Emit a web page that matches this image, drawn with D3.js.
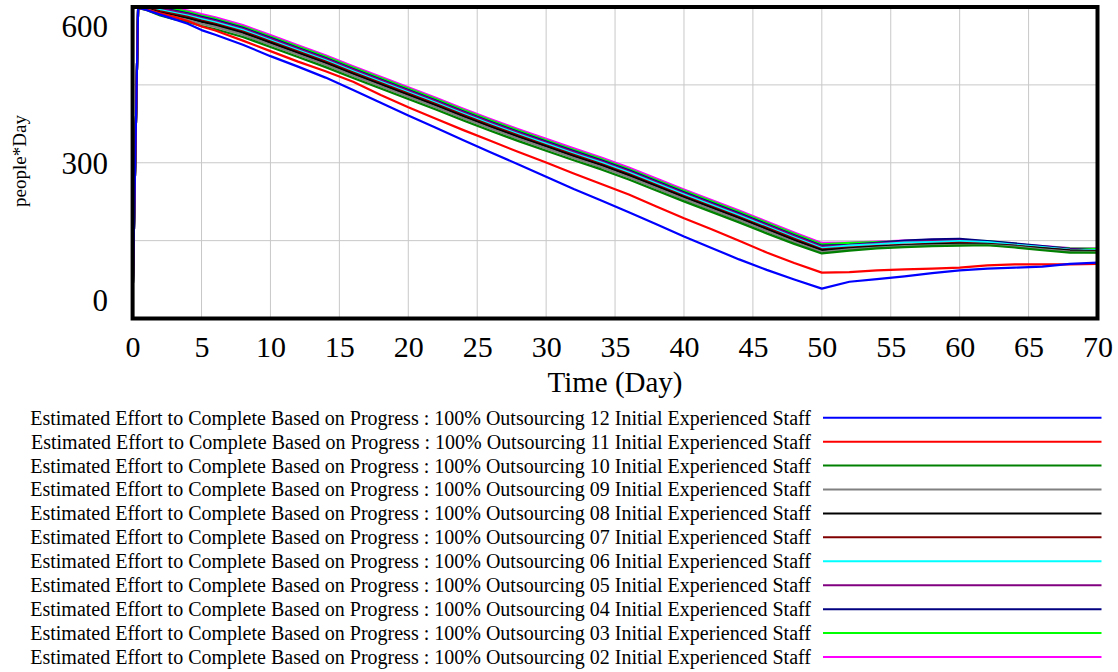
<!DOCTYPE html>
<html>
<head>
<meta charset="utf-8">
<script src="https://cdn.jsdelivr.net/npm/d3@7"></script>
<style>
  body { margin: 0; background: #fff; }
  svg { display: block; font-family: "Liberation Serif", "Times New Roman", serif; }
</style>
</head>
<body>
<div id="chart"></div>
<script>
// time axis (Day)
var times = [0, 0.4, 1, 2, 3, 4, 5, 6, 8, 10, 12, 14, 16, 18, 20, 22, 24, 26, 28, 30, 32, 34, 36, 38, 40, 42, 44, 46, 48, 50, 52, 54, 56, 58, 60, 62, 64, 66, 68, 70];

// Estimated Effort to Complete Based on Progress (people*Day), one run per initial staff
var staff12 = [0, 641, 636, 626, 616, 606, 592, 582, 560, 535, 512, 488, 461, 433, 405, 378, 351, 324, 298, 271, 244, 219, 193, 167, 140, 115, 90, 67, 46, 26, 41, 47, 53, 60, 66, 70, 72, 74, 80, 83];
var staff11 = [0, 641, 637, 629, 621, 612, 600, 591, 569, 546, 523, 502, 479, 450, 423, 398, 373, 349, 325, 302, 278, 255, 232, 206, 180, 156, 131, 105, 82, 61, 62, 66, 68, 70, 72, 77, 79, 79, 79, 80];
var staff10 = [0, 640, 636, 624, 616, 610, 601, 594, 577, 555, 533, 511, 487, 464, 441, 418, 394, 371, 349, 328, 307, 287, 265, 241, 217, 194, 171, 147, 124, 103, 109, 114, 117, 119, 120, 121, 116, 110, 105, 105];
var staff09 = [0, 641, 638, 627, 621, 614, 606, 599, 582, 560, 538, 516, 492, 469, 446, 423, 399, 376, 354, 333, 312, 292, 270, 246, 222, 199, 176, 152, 128, 106, 112, 116, 119, 121, 122, 122, 118, 112, 107, 106];
var staff08 = [0, 641, 639, 630, 624, 618, 610, 603, 586, 564, 542, 520, 496, 473, 450, 427, 403, 380, 358, 337, 316, 296, 274, 250, 226, 203, 180, 156, 132, 110, 114, 118, 121, 123, 124, 123, 119, 114, 109, 107];
var staff07 = [0, 641, 640, 633, 627, 621, 613, 606, 589, 567, 545, 523, 499, 476, 453, 430, 406, 383, 361, 340, 319, 299, 277, 253, 229, 206, 183, 159, 135, 112, 116, 119, 122, 124, 126, 124, 120, 115, 110, 108];
var staff06 = [0, 642, 641, 636, 630, 624, 616, 609, 592, 570, 548, 526, 502, 479, 456, 433, 409, 386, 364, 343, 322, 302, 280, 256, 232, 209, 186, 162, 138, 115, 120, 123, 127, 128, 130, 128, 122, 117, 111, 110];
var staff05 = [0, 642, 642, 639, 633, 627, 619, 612, 595, 573, 551, 529, 505, 482, 459, 436, 412, 389, 367, 346, 325, 305, 283, 259, 235, 212, 189, 165, 141, 118, 121, 125, 128, 130, 131, 127, 122, 117, 112, 109];
var staff04 = [0, 642, 642, 641, 635, 629, 621, 614, 597, 575, 553, 531, 507, 484, 461, 438, 414, 391, 369, 348, 327, 307, 285, 261, 237, 214, 191, 167, 143, 120, 122, 126, 131, 134, 135, 130, 125, 119, 113, 110];
var staff03 = [0, 642, 642, 642, 638, 632, 624, 617, 600, 578, 556, 534, 510, 487, 464, 441, 417, 394, 372, 351, 330, 310, 288, 264, 240, 217, 194, 170, 146, 123, 126, 128, 130, 132, 131, 130, 124, 118, 114, 113];
var staff02 = [0, 642, 642, 642, 640, 635, 627, 620, 603, 581, 559, 537, 513, 490, 467, 444, 420, 397, 375, 354, 333, 313, 291, 267, 243, 220, 197, 173, 149, 126, 127, 129, 131, 133, 133, 129, 123, 119, 115, 114];

var runLabels = ["12", "11", "10", "09", "08", "07", "06", "05", "04", "03", "02"];
var runValues = [staff12, staff11, staff10, staff09, staff08, staff07, staff06, staff05, staff04, staff03, staff02];
var xTicks = [0, 5, 10, 15, 20, 25, 30, 35, 40, 45, 50, 55, 60, 65, 70];
var yTicks = [0, 300, 600];

var colors = ["#0000ff", "#ff0000", "#008000", "#808080", "#000000", "#800000",
              "#00ffff", "#800080", "#000080", "#00ff00", "#ff00ff"];

var _width = 1118, _height = 672;
var _plot = { left: 132.6, right: 1097.5, top: 7, bottom: 318.5 };

var svg = d3.select("#chart").append("svg")
  .attr("width", _width)
  .attr("height", _height);

var x = d3.scaleLinear().domain([0, 70]).range([_plot.left, _plot.right]);
var y = d3.scaleLinear().domain([-39.4, 642.6]).range([_plot.bottom, _plot.top]);

svg.append("defs").append("clipPath").attr("id", "body-clip")
  .append("rect")
  .attr("x", _plot.left)
  .attr("y", _plot.top)
  .attr("width", _plot.right - _plot.left)
  .attr("height", _plot.bottom - _plot.top);

// grid: vertical at every x tick, horizontal splits plot in 4
var grid = svg.append("g").attr("class", "grid");
grid.selectAll("line.v").data(xTicks).enter().append("line")
  .attr("x1", function(d) { return x(d); })
  .attr("x2", function(d) { return x(d); })
  .attr("y1", _plot.top).attr("y2", _plot.bottom)
  .attr("stroke", "#c8c8c8").attr("stroke-width", 1);
var ySpan = y.domain()[1] - y.domain()[0];
grid.selectAll("line.h").data([1, 2, 3]).enter().append("line")
  .attr("x1", _plot.left).attr("x2", _plot.right)
  .attr("y1", function(d) { return y(y.domain()[0] + ySpan * d / 4); })
  .attr("y2", function(d) { return y(y.domain()[0] + ySpan * d / 4); })
  .attr("stroke", "#c8c8c8").attr("stroke-width", 1);

var line = d3.line()
  .x(function(d, i) { return x(times[i]); })
  .y(function(d) { return y(d); });

// first run ends up on top
var body = svg.append("g").attr("clip-path", "url(#body-clip)");
var order = d3.range(runValues.length).reverse();
body.selectAll("path").data(order).enter().append("path")
  .attr("d", function(i) { return line(runValues[i]); })
  .attr("fill", "none")
  .attr("stroke", function(i) { return colors[i]; })
  .attr("stroke-width", 2.2)
  .attr("stroke-linejoin", "round");

// frame
svg.append("rect")
  .attr("x", _plot.left).attr("y", _plot.top)
  .attr("width", _plot.right - _plot.left)
  .attr("height", _plot.bottom - _plot.top)
  .attr("fill", "none").attr("stroke", "#000").attr("stroke-width", 4);

// axes
var xAxis = svg.append("g")
  .attr("transform", "translate(0," + _plot.bottom + ")")
  .call(d3.axisBottom(x).tickValues(xTicks).tickSize(0).tickFormat(d3.format("d")));
xAxis.select(".domain").remove();
xAxis.selectAll("text")
  .attr("y", 357 - _plot.bottom).attr("dy", null)
  .style("font-family", "'Liberation Serif', serif")
  .style("font-size", "30px").attr("fill", "#000");

var yAxis = svg.append("g")
  .attr("transform", "translate(108,0)")
  .call(d3.axisLeft(y).tickValues(yTicks).tickSize(0).tickPadding(0).tickFormat(d3.format("d")));
yAxis.select(".domain").remove();
yAxis.selectAll("text")
  .attr("dy", "0.33em")
  .style("font-family", "'Liberation Serif', serif")
  .style("font-size", "31px").attr("fill", "#000");

svg.append("text")
  .attr("x", 615).attr("y", 392)
  .attr("text-anchor", "middle")
  .style("font-size", "29px")
  .text("Time (Day)");

svg.append("text")
  .attr("transform", "translate(26,161) rotate(-90)")
  .attr("text-anchor", "middle")
  .style("font-size", "19px")
  .text("people*Day");

// legend
var legend = svg.append("g").attr("class", "legend");
var rowY = function(i) { return 417.7 + i * 23.93; };
runLabels.forEach(function(lab, i) {
  legend.append("text")
    .attr("x", 811).attr("y", rowY(i) + 7)
    .attr("text-anchor", "end")
    .style("font-size", "20px")
    .text("Estimated Effort to Complete Based on Progress : 100% Outsourcing " + lab + " Initial Experienced Staff");
  legend.append("line")
    .attr("x1", 823).attr("x2", 1101.5)
    .attr("y1", rowY(i)).attr("y2", rowY(i))
    .attr("stroke", colors[i]).attr("stroke-width", 2);
});
</script>
</body>
</html>
